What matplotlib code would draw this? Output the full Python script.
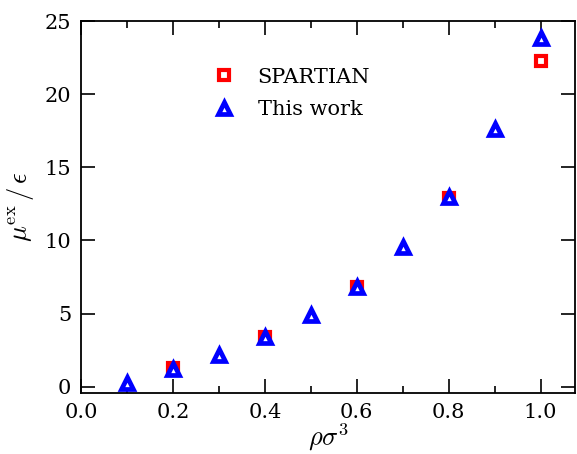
import matplotlib
matplotlib.use('Agg')
import matplotlib.pyplot as plt
import numpy as np

# data
rho_spartian = [0.2, 0.4, 0.6, 0.8, 1.0]
mu_spartian = [1.30, 3.40, 6.83, 12.90, 22.25]

rho_this = [0.1, 0.2, 0.3, 0.4, 0.5, 0.6, 0.7, 0.8, 0.9, 1.0]
mu_this = [0.27, 1.19, 2.17, 3.42, 4.90, 6.83, 9.56, 12.94, 17.65, 23.86]

plt.rcParams['font.family'] = 'DejaVu Serif'
plt.rcParams['mathtext.fontset'] = 'cm'

fig = plt.figure(figsize=(5.77, 4.54), dpi=100)
ax = fig.add_axes([0.1404, 0.1337, 0.8561, 0.82])

ax.plot(rho_spartian, mu_spartian, ls='none', marker='s', ms=7.5,
        mfc='white', mec='red', mew=3.0, label='SPARTIAN')
ax.plot(rho_this, mu_this, ls='none', marker='^', ms=8.5,
        mfc='white', mec='blue', mew=3.4, label='This work')

ax.set_xlim(0, 1.075)
ax.set_ylim(-0.45, 25)
ax.set_xticks(np.arange(0, 1.01, 0.2))
ax.set_xticks(np.arange(0.1, 1.01, 0.2), minor=True)
ax.set_yticks(np.arange(0, 26, 5))
ax.xaxis.set_major_formatter(matplotlib.ticker.FormatStrFormatter('%.1f'))

ax.tick_params(which='both', direction='in', top=True, right=True,
               labelsize=15, width=1.2, colors='black')
ax.tick_params(which='major', length=10, pad=7)
ax.tick_params(which='minor', length=5)
for s in ax.spines.values():
    s.set_linewidth(1.3)

ax.set_xlabel(r'$\rho\sigma^3$', fontsize=19, labelpad=0)
ax.set_ylabel(r'$\mu^{\rm ex}\,/\,\epsilon$', fontsize=19, labelpad=6)

ax.legend(loc='upper left', bbox_to_anchor=(0.21, 0.925), frameon=False,
          fontsize=15, handletextpad=0.6, labelspacing=0.65, numpoints=1)

fig.savefig('out.png', dpi=100)
